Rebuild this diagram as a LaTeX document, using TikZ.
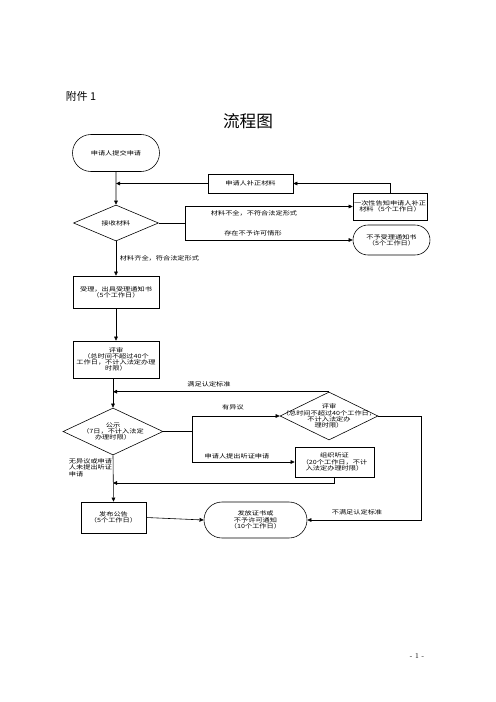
\documentclass[tikz,border=0pt]{standalone}
\usepackage{fontspec}
\usetikzlibrary{arrows.meta,shapes.geometric,shapes.misc}
\newfontfamily\cjk{Noto Sans CJK SC}[FakeStretch=1.25]
\newfontfamily\cjkhead{Noto Sans CJK SC}
\newcommand\smtext{\cjk\fontsize{6.9}{7.4}\selectfont}

\begin{document}
\begin{tikzpicture}[
  x=1.2pt,
  y=-1.2pt,
  every node/.style={font=\smtext},
  every label/.style={font=\smtext, align=center},
  wh/.style 2 args={minimum width=#1*1.2pt, minimum height=#2*1.2pt},
  base/.style={draw, line width=0.7pt, align=center, inner sep=0pt},
  procbox/.style={base, rectangle},
  termbox/.style={base, rounded rectangle},
  decbox/.style={base, diamond},
  arr/.style={-{Triangle[length=5pt,width=4.5pt]}, line width=0.7pt},
  line/.style={line width=0.7pt}
]
  \useasboundingbox (0,0) rectangle (496,702);

  % heading
  \node[font=\cjkhead\fontsize{13}{15}\selectfont] (att) at (81,96) {附件 1};
  \node[font=\cjkhead\fontsize{20}{24}\selectfont] (title) at (248,121) {流程图};

  % acceptance stage
  \node[termbox, wh={87}{37}] (start) at (116,153) {申请人提交申请};
  \node[procbox, wh={85}{19}] (supp) at (250.5,183.5) {申请人补正材料};
  \node[procbox, wh={74}{27}] (inform) at (390,206.5) {一次性告知申请人补正\\材料（5个工作日）};
  \node[decbox, wh={85}{36}, label=center:{接收材料}] (recv) at (116,223) {};
  \node[termbox, wh={77}{30}] (refuse) at (391.5,240) {不予受理通知书\\（5个工作日）};
  \node[procbox, wh={86}{32}] (accept) at (116,292) {受理，出具受理通知书\\（5个工作日）};

  % review stage
  \node[procbox, wh={86}{37}] (review) at (116,359.5) {评审\\（总时间不超过40个\\工作日，不计入法定办理\\时限）};
  \node[decbox, wh={100}{47}, label=center:{公示\\（7日，不计入法定\\办理时限）}] (publicity) at (113,431.5) {};
  \node[decbox, wh={98}{48}, label=center:{评审\\（总时间不超过40个工作日，\\不计入法定办\\理时限）}] (rereview) at (329,416) {};
  \node[procbox, wh={79}{30}] (hearing) at (334.5,462) {组织听证\\（20个工作日，不计\\入法定办理时限）};
  \node[procbox, wh={65}{31}] (announce) at (113.5,517.5) {发布公告\\（5个工作日）};
  \node[termbox, wh={103}{36}] (issue) at (255.5,520) {发放证书或\\不予许可通知\\（10个工作日）};

  \coordinate (split1) at (185,223);
  \coordinate (split2) at (192,431.5);
  \coordinate (join1) at (113,483);

  % connectors, upper part
  \draw[arr] (start) -- (recv);
  \draw[arr] (supp.west) -- (supp.west -| start.south);
  \draw[arr] (inform.north) |- (supp.east);
  \draw[line] (recv.east) -- (split1);
  \draw[arr] (split1) |- (inform.west);
  \draw[arr] (split1) |- (refuse.west);
  \draw[arr] (recv) -- (accept);
  \draw[arr] (accept) -- (review);

  % connectors, lower part
  \draw[arr] (review.south -| publicity.north) -- (publicity.north);
  \draw[arr] (rereview.north) -- (rereview.north -| publicity.north);
  \draw[line] (publicity.east) -- (split2);
  \draw[arr] (split2) |- (rereview.west);
  \draw[arr] (split2) |- (hearing.west);
  \draw[arr] (hearing.south) |- (join1);
  \draw[arr] (publicity.south) -- (announce.north);
  \draw[arr] (announce.east) -- (issue.west);
  \draw[arr] (rereview.east) -- ++(43,0) |- (issue.east);

  % branch labels
  \node (l1) at (254,213) {材料不全，不符合法定形式};
  \node (l2) at (253,233) {存在不予许可情形};
  \node[anchor=west] (l3) at (117,258) {材料齐全，符合法定形式};
  \node (l4) at (209,384) {满足认定标准};
  \node (l5) at (233,407) {有异议};
  \node (l6) at (237,456) {申请人提出听证申请};
  \node[anchor=north west, align=left] (l7) at (66,456) {无异议或申请\\人未提出听证\\申请};
  \node (l8) at (357,512) {不满足认定标准};

  % page number
  \node[font=\fontsize{9}{10}\selectfont] (page) at (417,656) {- 1 -};
\end{tikzpicture}
\end{document}
